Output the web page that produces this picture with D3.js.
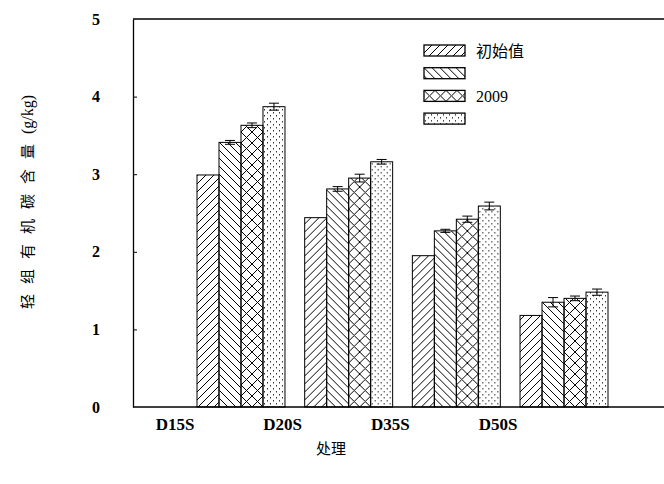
<!DOCTYPE html>
<html>
<head>
<meta charset="utf-8">
<script src="https://cdn.jsdelivr.net/npm/d3@7"></script>
<style>
  body { margin: 0; background: #fff; }
  svg { display: block; }
</style>
</head>
<body>
<svg id="viz"></svg>
<script>
/* Data */

const categories = ["D15S", "D20S", "D35S", "D50S"];
const seriesNames = ["初始值", "", "2009", ""];
const s1 = [2.99, 2.44, 1.95, 1.18];
const s2 = [3.41, 2.81, 2.27, 1.35];
const s3 = [3.63, 2.95, 2.42, 1.40];
const s4 = [3.87, 3.16, 2.59, 1.48];
const e1 = [0, 0, 0, 0];
const e2 = [0.025, 0.03, 0.02, 0.06];
const e3 = [0.03, 0.05, 0.04, 0.03];
const e4 = [0.045, 0.03, 0.05, 0.04];
const yTicks = [0, 1, 2, 3, 4, 5];

const values = [s1, s2, s3, s4];
const errors = [e1, e2, e3, e4];

/* Environment */

const width = 664, height = 484;
const plotLeft = 133, plotRight = 664, plotTop = 19, plotBottom = 407;

const svg = d3.select('#viz')
    .attr('width', width)
    .attr('height', height);

/* Patterns */

const defs = svg.append("defs");

function pattern(id, w, h) {
  return defs.append("pattern")
      .attr("id", id)
      .attr("patternUnits", "userSpaceOnUse")
      .attr("width", w)
      .attr("height", h);
}

pattern("p0", 8, 8).append("path")
    .attr("d", "M-2,2 L2,-2 M0,8 L8,0 M6,10 L10,6")
    .attr("stroke", "#000").attr("stroke-width", 1);

pattern("p1", 8, 8).append("path")
    .attr("d", "M-2,6 L2,10 M0,0 L8,8 M6,-2 L10,2")
    .attr("stroke", "#000").attr("stroke-width", 1);

pattern("p2", 11, 11).append("path")
    .attr("d", "M0,0 L11,11 M11,0 L0,11")
    .attr("stroke", "#000").attr("stroke-width", 1);

const dots = pattern("p3", 6, 6);
dots.append("rect").attr("x", 1).attr("y", 1).attr("width", 1).attr("height", 1.5).attr("fill", "#333");
dots.append("rect").attr("x", 4).attr("y", 4).attr("width", 1).attr("height", 1.5).attr("fill", "#333");

/* Scales */

const x = d3.scaleBand()
    .domain(categories)
    .range([197, 608])
    .paddingInner(0.183)
    .paddingOuter(0);

const xs = d3.scaleBand()
    .domain(d3.range(seriesNames.length))
    .range([0, x.bandwidth()]);

const y = d3.scaleLinear()
    .domain([0, 5])
    .range([plotBottom, plotTop]);

/* Bars */

const gGroup = svg.append("g").selectAll("g")
    .data(categories)
    .join("g")
    .attr("transform", d => `translate(${x(d)},0)`);

gGroup.selectAll("rect")
    .data((d, ci) => values.map((s, si) => ({si, v: s[ci], e: errors[si][ci]})))
    .join("rect")
    .attr("x", d => xs(d.si))
    .attr("y", d => y(d.v))
    .attr("width", xs.bandwidth())
    .attr("height", d => y(0) - y(d.v))
    .attr("fill", d => `url(#p${d.si})`)
    .attr("stroke", "#000")
    .attr("stroke-width", 1);

const errs = gGroup.selectAll("g.err")
    .data((d, ci) => values.map((s, si) => ({si, v: s[ci], e: errors[si][ci]})).filter(d => d.e > 0))
    .join("g")
    .attr("class", "err")
    .attr("stroke", "#000")
    .attr("stroke-width", 1);

errs.append("line")
    .attr("x1", d => xs(d.si) + xs.bandwidth() / 2)
    .attr("x2", d => xs(d.si) + xs.bandwidth() / 2)
    .attr("y1", d => y(d.v - d.e))
    .attr("y2", d => y(d.v + d.e));

[1, -1].forEach(k => {
  errs.append("line")
      .attr("x1", d => xs(d.si) + xs.bandwidth() / 2 - 5)
      .attr("x2", d => xs(d.si) + xs.bandwidth() / 2 + 5)
      .attr("y1", d => y(d.v + k * d.e))
      .attr("y2", d => y(d.v + k * d.e));
});

/* Axes */

svg.append("g")
    .attr("transform", `translate(${plotLeft},0)`)
    .call(d3.axisLeft(y).tickValues(yTicks).tickFormat(d3.format("d"))
        .tickSize(-4).tickSizeOuter(0).tickPadding(33))
    .call(g => g.select(".domain").attr("stroke-width", 1.3))
    .call(g => g.selectAll(".tick line").filter(d => d === 0 || d === 5).remove())
    .call(g => g.selectAll("text")
        .attr("font-family", "Liberation Serif")
        .attr("font-weight", "bold")
        .attr("font-size", 16)
        .attr("fill", "#000"));

svg.append("line")
    .attr("x1", plotLeft).attr("x2", plotRight)
    .attr("y1", plotTop).attr("y2", plotTop)
    .attr("stroke", "#000").attr("stroke-width", 1.5);

svg.append("line")
    .attr("x1", plotLeft).attr("x2", plotRight)
    .attr("y1", plotBottom).attr("y2", plotBottom)
    .attr("stroke", "#000").attr("stroke-width", 1.5);

svg.append("g").selectAll("text")
    .data(categories)
    .join("text")
    .attr("x", d => x(d) - 22)
    .attr("y", 430)
    .attr("text-anchor", "middle")
    .attr("font-family", "Liberation Serif")
    .attr("font-weight", "bold")
    .attr("font-size", 17)
    .text(d => d);

svg.append("text")
    .attr("x", 331)
    .attr("y", 454)
    .attr("text-anchor", "middle")
    .attr("font-family", "Noto Sans CJK SC")
    .attr("font-size", 15)
    .text("处理");

const yTitle = svg.append("text")
    .attr("transform", "translate(33,202) rotate(-90)")
    .attr("text-anchor", "middle")
    .attr("font-size", 15);

yTitle.append("tspan")
    .attr("font-family", "Noto Sans CJK SC")
    .attr("letter-spacing", 10)
    .text("轻组有机碳含量");

yTitle.append("tspan")
    .attr("font-family", "Liberation Serif")
    .attr("font-size", 16)
    .text("(g/kg)");

/* Legend */

const legend = svg.append("g")
    .attr("transform", "translate(424,45)")
    .selectAll("g")
    .data(seriesNames)
    .join("g")
    .attr("transform", (d, i) => `translate(0,${i * 22.7})`);

legend.append("rect")
    .attr("width", 41)
    .attr("height", 11)
    .attr("fill", (d, i) => `url(#p${i})`)
    .attr("stroke", "#000")
    .attr("stroke-width", 1.3);

legend.append("text")
    .attr("x", 52)
    .attr("y", 12)
    .attr("font-family", (d, i) => i === 0 ? "Noto Sans CJK SC" : "Liberation Serif")
    .attr("font-size", 16)
    .text(d => d);
</script>
</body>
</html>
